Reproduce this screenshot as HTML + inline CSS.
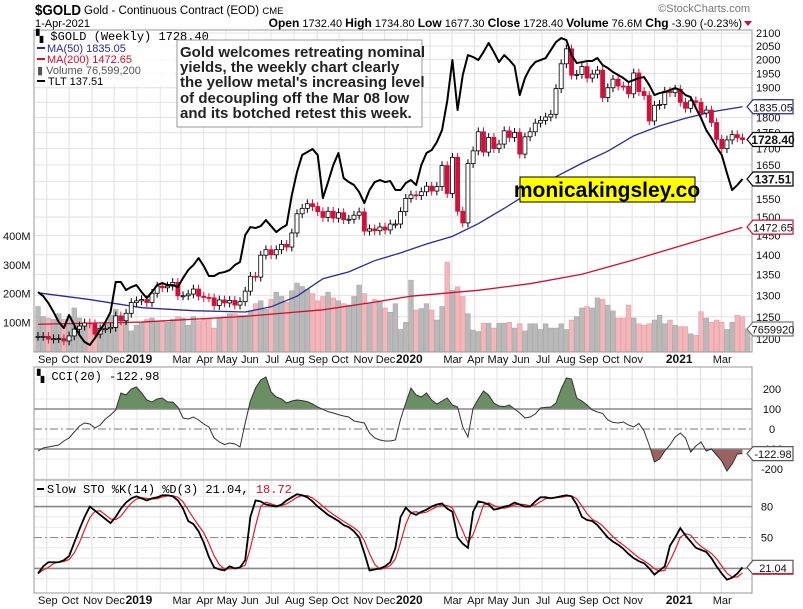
<!DOCTYPE html>
<html><head><meta charset="utf-8"><style>
html,body{margin:0;padding:0;background:#fff;}
svg{display:block;font-family:"Liberation Sans",Arial,sans-serif;}
</style></head><body>
<svg id="c" width="803" height="609" viewBox="0 0 803 609" xmlns="http://www.w3.org/2000/svg">
<defs>
<clipPath id="mainClip"><rect x="34" y="30" width="718" height="322"/></clipPath>
<clipPath id="cciAbove"><rect x="34" y="367" width="718" height="42"/></clipPath>
<clipPath id="cciBelow"><rect x="34" y="449" width="718" height="31"/></clipPath>
<clipPath id="cciClip"><rect x="34" y="367" width="718" height="113"/></clipPath>
<clipPath id="stoClip"><rect x="34" y="480" width="718" height="113"/></clipPath>
</defs>
<g id="grid"></g>
<g id="vol" clip-path="url(#mainClip)"></g>
<g id="ma" clip-path="url(#mainClip)"></g>
<g id="candles" clip-path="url(#mainClip)"></g>
<g id="tlt" clip-path="url(#mainClip)"></g>
<g id="cci"></g>
<g id="sto"></g>
<g id="frames">
<rect x="34" y="30" width="718" height="322" fill="none" stroke="#999"/>
<rect x="34" y="367" width="718" height="113" fill="none" stroke="#999"/>
<rect x="34" y="480" width="718" height="113" fill="none" stroke="#999"/>
</g>
<g id="axes" font-size="11" fill="#111"></g>
<g>
<text x="35" y="15" font-size="15" font-weight="bold" textLength="46" lengthAdjust="spacingAndGlyphs">$GOLD</text>
<text x="84" y="14" font-size="11.5">Gold - Continuous Contract (EOD) <tspan font-size="9.5">CME</tspan></text>
<text x="35" y="27" font-size="11">1-Apr-2021</text>
<text x="742" y="27" font-size="11" text-anchor="end"><tspan font-weight="bold" font-size="12">Open</tspan> 1732.40 <tspan font-weight="bold" font-size="12">High</tspan> 1734.80 <tspan font-weight="bold" font-size="12">Low</tspan> 1677.30 <tspan font-weight="bold" font-size="12">Close</tspan> 1728.40 <tspan font-weight="bold" font-size="12">Volume</tspan> 76.6M <tspan font-weight="bold" font-size="12">Chg</tspan> -3.90 (-0.23%)</text>
<path d="M744,21 L752,21 L748,26 Z" fill="#d01030"/>
<text x="750" y="12" font-size="11" fill="#777" text-anchor="end">©StockCharts.com</text>
</g>
<g>
<rect x="35" y="31" width="140" height="55" fill="#fff" opacity="0.85"/>
<text x="36" y="40" font-size="12" font-family="Liberation Mono,monospace">▚ $GOLD (Weekly) 1728.40</text>
<line x1="37" y1="48" x2="45" y2="48" stroke="#2a2a9a" stroke-width="2"/>
<text x="47" y="52" font-size="11" fill="#2a2a9a">MA(50) 1835.05</text>
<line x1="37" y1="59" x2="45" y2="59" stroke="#d01030" stroke-width="2"/>
<text x="47" y="63" font-size="11" fill="#d01030">MA(200) 1472.65</text>
<text x="37" y="74" font-size="11" fill="#555">▮ Volume 76,599,200</text>
<line x1="37" y1="81" x2="45" y2="81" stroke="#000" stroke-width="2"/>
<text x="48" y="85" font-size="11">TLT 137.51</text>
</g>
<g>
<rect x="177" y="40" width="245" height="87" fill="#fff" stroke="#999"/>
<text font-size="15" font-weight="bold" fill="#222">
<tspan x="180" y="57">Gold welcomes retreating nominal</tspan>
<tspan x="180" y="72">yields, the weekly chart clearly</tspan>
<tspan x="180" y="87">the yellow metal's increasing level</tspan>
<tspan x="180" y="103">of decoupling off the Mar 08 low</tspan>
<tspan x="180" y="118">and its botched retest this week.</tspan>
</text>
</g>
<g>
<rect x="520" y="177" width="175" height="25" fill="#ffff00" stroke="#000"/>
<text x="607" y="197" font-size="21" font-weight="bold" text-anchor="middle">monicakingsley.co</text>
</g>
<g><text x="37" y="380" font-size="12" font-family="Liberation Mono,monospace">▚ CCI(20) -122.98</text></g>
<g><line x1="37" y1="489" x2="44" y2="489" stroke="#000" stroke-width="2"/><text x="47" y="493" font-size="12" font-family="Liberation Mono,monospace">Slow STO %K(14) %D(3) 21.04, <tspan fill="#d01030">18.72</tspan></text></g>
<g id="tags"></g>
</svg>
<script>
// ---- data (weekly, starting 20-Aug-2018) ----
const goldClose = [1206,1206,1200,1201,1201,1196,1207,1222,1229,1236,1234,1211,1223,1223,1226,1252,1241,1258,1283,1287,
1290,1283,1305,1322,1318,1322,1331,1299,1299,1303,1315,1298,1295,1294,1276,1289,1282,1288,1277,1285,
1310,1346,1344,1399,1413,1400,1413,1427,1420,1457,1509,1524,1537,1529,1515,1499,1516,1497,1512,1493,
1494,1505,1514,1462,1468,1463,1473,1465,1481,1481,1515,1552,1562,1560,1571,1587,1573,1586,1648,1566,
1673,1516,1484,1654,1693,1753,1689,1735,1700,1714,1756,1735,1751,1683,1737,1753,1781,1790,1801,1810,
1897,1985,2040,1944,1947,1975,1934,1948,1962,1866,1900,1930,1906,1905,1879,1952,1887,1873,1788,1840,
1843,1888,1883,1895,1850,1830,1855,1850,1814,1824,1783,1729,1700,1727,1744,1734,1728];
const volumeM = [155,120,115,110,130,110,120,150,115,95,90,80,80,95,125,145,120,115,70,90,
100,110,115,105,105,100,110,120,115,90,120,105,110,110,80,115,120,130,130,125,
125,140,165,175,145,180,205,190,170,210,237,225,215,200,175,190,205,185,175,165,
160,190,230,200,165,180,175,150,135,165,75,100,
247,143,148,165,143,108,155,310,212,224,190,130,
73,68,97,97,80,97,97,100,80,
95,70,95,95,75,95,80,80,95,75,108,120,150,155,150,185,180,160,140,115,
115,160,115,95,90,95,108,125,95,108,90,85,85,60,55,137,115,100,108,100,75,100,125,120,77];
const ma50Weeks = [0,10,20,30,40,45,50,55,60,65,70,75,80,85,90,95,100,105,110,115,120,125,130,136];
const ma50Values = [1306,1290,1271,1264,1261,1273,1298,1340,1357,1385,1405,1428,1448,1482,1524,1570,1615,1655,1692,1740,1772,1797,1818,1835];
const ma200Weeks = [0,20,40,55,65,72,85,95,105,115,125,136];
const ma200Values = [1233,1238,1251,1266,1284,1298,1312,1328,1351,1387,1427,1472];
const tltClose = [114.9,114.1,112.7,110.9,108.9,107.7,110.3,108.3,106.3,104.9,104.3,105.7,107.3,108.9,110.9,116.9,116.9,115.3,115.9,116.3,
114.9,113.7,114.9,116.3,116.7,116.3,116.3,115.9,117.7,119.3,120.3,121.7,120.1,118.1,118.1,118.7,118.9,119.3,120.3,120.9,
126.3,127.9,127.7,128.1,129.3,128.1,126.9,127.7,128.3,134.3,138.9,142.3,142.9,143.5,142.3,133.7,136.9,140.3,142.7,137.7,
136.9,136.3,134.9,132.7,135.3,136.9,137.3,136.9,137.1,135.3,135.3,136.7,137.3,136.3,140.3,142.7,143.3,144.9,147.3,153.1,
161.3,151.3,158.3,162.3,161.9,161.3,162.9,164.7,162.9,160.9,162.3,161.3,160.1,154.3,157.7,159.7,160.9,161.3,161.7,163.3,
164.9,165.7,165.3,162.3,160.7,160.9,161.1,161.1,161.7,160.3,159.7,158.9,158.3,157.7,156.9,157.3,157.7,157.9,156.3,154.3,
154.7,154.9,155.3,155.7,155.3,154.3,153.9,151.7,149.7,147.3,145.7,143.9,142.3,138.7,135.3,136.3,137.51];
const cciValues = [-110,-95,-90,-85,-80,-60,-45,-15,15,30,25,5,20,50,70,95,180,170,200,210,
180,145,135,150,155,135,135,110,55,50,60,45,25,10,-45,-65,-78,-70,-75,-90,
30,140,205,245,260,185,160,150,130,140,145,142,137,125,110,98,87,80,72,65,
60,40,35,30,-20,-45,-55,-60,-60,-55,50,130,205,170,160,180,145,125,140,155,
120,110,10,-40,105,150,190,170,130,115,112,120,100,80,55,60,75,105,108,110,
130,200,255,250,155,140,120,95,85,78,45,33,30,35,20,10,28,-10,-80,-165,
-150,-110,-80,-40,-20,-45,-115,-85,-65,-110,-100,-130,-160,-210,-175,-125,-123];
const stoK = [15,22,26,26,26,28,32,45,58,70,80,76,72,68,64,70,78,84,88,90,
88,86,88,89,91,91,90,86,78,66,63,56,45,31,21,19,18,22,20,21,
28,70,86,85,82,81,80,82,86,89,92,91,89,85,80,76,72,69,66,62,
60,56,50,35,18,19,20,22,26,40,70,79,74,72,75,77,80,82,83,78,
75,50,44,40,75,85,84,82,77,78,80,81,84,82,80,80,85,89,89,88,
89,90,91,90,82,70,67,66,62,56,50,46,43,39,34,30,27,25,20,14,
18,22,42,50,59,52,46,40,38,36,30,22,15,9,11,15,21];
const priceTicks = [1200,1250,1300,1350,1400,1450,1500,1550,1600,1650,1700,1750,1800,1850,1900,1950,2000,2050,2100];
const volTicks = [100,200,300,400];
const volTickLabels = ["100M","200M","300M","400M"];
const cciTicks = [200,100,0,-100,-200];
const stoTicks = [80,50,20];
const monthLabels = ["Sep","Oct","Nov","Dec","2019","","Mar","Apr","May","Jun","Jul","Aug","Sep","Oct","Nov","Dec","2020","","Mar","Apr","May","Jun","Jul","Aug","Sep","Oct","Nov","","2021","","Mar"];
const monthStartWeeks = [1.7,6,10.4,14.7,19.1,23.6,27.6,32,36.3,40.7,45,49.4,53.9,58.1,62.6,66.9,71.3,75.7,79.9,84.3,88.6,93,97.3,101.7,106.1,110.4,114.7,119,123.4,127.9,131.9];

// ---- scales ----
const NS="http://www.w3.org/2000/svg";
const X = i => 38 + i*5.18;
const PY = p => 33 + 547*Math.log(2100/p);
const VY = v => 351 - v*0.287;
const TY = v => 179 - (v-137.51)*5;
const CY = v => 429 - v*0.2;
const SY = v => 589 - v*1.03;
function mk(tag, attrs, parent){const e=document.createElementNS(NS,tag);for(const k in attrs)e.setAttribute(k,attrs[k]);parent.appendChild(e);return e;}
const $=id=>document.getElementById(id);

// grid
const grid=$('grid');
monthStartWeeks.forEach((w,k)=>{
  const x=X(w);
  [[30,352],[367,480],[480,593]].forEach(r=>{
    const l=mk('line',{x1:x,x2:x,y1:r[0],y2:r[1],stroke:'#e2e2e2'},grid);
    
    
  });
});
priceTicks.forEach(p=>{const l=mk('line',{x1:34,x2:752,y1:PY(p),y2:PY(p),stroke:'#e2e2e2'},grid);

});
[250,150,50,-50,-150,-250].forEach(v=>{if(CY(v)>367&&CY(v)<480){const l=mk('line',{x1:34,x2:752,y1:CY(v),y2:CY(v),stroke:'#e8e8e8'},grid);

}});
[10,30,40,60,70,90].forEach(v=>{const l=mk('line',{x1:34,x2:752,y1:SY(v),y2:SY(v),stroke:'#e8e8e8'},grid);

});

// volume
const vol=$('vol');
volumeM.forEach((v,i)=>{
  const down = i>0 && goldClose[i]<goldClose[i-1];
  const r=mk('rect',{x:X(i)-2.4,y:VY(v),width:4.8,height:351-VY(v)+1,fill:down?'#f2b6bb':'#b9b9b9',stroke:down?'#e59aa0':'#a5a5a5','stroke-width':0.5},vol);
  
  
});

// moving averages
const ma=$('ma');
const p50=mk('polyline',{points:ma50Weeks.map((w,k)=>X(w)+','+PY(ma50Values[k])).join(' '),fill:'none',stroke:'#2a2a9a','stroke-width':1.3},ma);


const p200=mk('polyline',{points:ma200Weeks.map((w,k)=>X(w)+','+PY(ma200Values[k])).join(' '),fill:'none',stroke:'#d01030','stroke-width':1.3},ma);



// candles
const cg=$('candles');
goldClose.forEach((c,i)=>{
  const o = i>0?goldClose[i-1]:c;
  const up = c>=o;
  const hi=Math.max(o,c)*1.008, lo=Math.min(o,c)*0.992;
  const col = up?'#000':'#d4103a';
  const w=mk('line',{x1:X(i),x2:X(i),y1:PY(hi),y2:PY(lo),stroke:col,'stroke-width':1},cg);
  
  
  const top=PY(Math.max(o,c)), bot=PY(Math.min(o,c));
  const b=mk('rect',{x:X(i)-2,y:top,width:4,height:Math.max(1,bot-top),fill:up?'#fff':'#d4103a',stroke:col,'stroke-width':0.8},cg);
  
  
});

// TLT
const tl=mk('polyline',{points:tltClose.map((v,i)=>X(i)+','+TY(v)).join(' '),fill:'none',stroke:'#000','stroke-width':2,'stroke-linejoin':'round'},$('tlt'));



// CCI
const cg2=$('cci');
const cpts=cciValues.map((v,i)=>X(i)+','+CY(v));
const lastX=X(cciValues.length-1);
const fa=mk('polygon',{points:X(0)+','+CY(100)+' '+cpts.join(' ')+' '+lastX+','+CY(100),fill:'#6a8f62',stroke:'none','clip-path':'url(#cciAbove)'},cg2);


const fb=mk('polygon',{points:X(0)+','+CY(-100)+' '+cpts.join(' ')+' '+lastX+','+CY(-100),fill:'#9c6262',stroke:'none','clip-path':'url(#cciBelow)'},cg2);


[[100,'#888',''],[-100,'#888',''],[0,'#777','8,3,2,3']].forEach(t=>{const l=mk('line',{x1:34,x2:752,y1:CY(t[0]),y2:CY(t[0]),stroke:t[1],'stroke-width':t[2]?1:1.6,'stroke-dasharray':t[2]},cg2);

});
const cl=mk('polyline',{points:cpts.join(' '),fill:'none',stroke:'#333','stroke-width':1,'clip-path':'url(#cciClip)'},cg2);



// STO
const sg=$('sto');
[[80,''],[20,''],[50,'8,3,2,3']].forEach(t=>{const l=mk('line',{x1:34,x2:752,y1:SY(t[0]),y2:SY(t[0]),stroke:'#888','stroke-width':t[1]?1:1.6,'stroke-dasharray':t[1]},sg);

});
const stoD = stoK.map((v,i)=>{const a=stoK.slice(Math.max(0,i-2),i+1);return a.reduce((s,x)=>s+x,0)/a.length;});
const dl=mk('polyline',{points:stoD.map((v,i)=>X(i)+','+SY(v)).join(' '),fill:'none',stroke:'#e0202a','stroke-width':1.2,'clip-path':'url(#stoClip)'},sg);


const kl=mk('polyline',{points:stoK.map((v,i)=>X(i)+','+SY(v)).join(' '),fill:'none',stroke:'#000','stroke-width':1.8,'clip-path':'url(#stoClip)'},sg);



// axes
const ax=$('axes');
priceTicks.forEach(p=>{const t=mk('text',{x:756,y:PY(p)+4},ax);t.textContent=p;

});
volTicks.forEach((v,k)=>{const t=mk('text',{x:3,y:VY(v)+4},ax);t.textContent=volTickLabels[k];

});
cciTicks.forEach(v=>{const t=mk('text',{x:772,y:CY(v)+4,'text-anchor':'middle'},ax);t.textContent=v;

});
stoTicks.forEach(v=>{const t=mk('text',{x:767,y:SY(v)+4,'text-anchor':'middle'},ax);t.textContent=v;

});
monthLabels.forEach((m,k)=>{ if(!m) return;
  const yr=/^20/.test(m);
  [363,604].forEach(y=>{const t=mk('text',{x:X(monthStartWeeks[k])+(yr?2:1),y:y,'text-anchor':'middle','font-weight':yr?'bold':'normal','font-size':yr?12:11},ax);t.textContent=m;
  
  });
});

// value tags
const tg=$('tags');
function tag(y,txt,col,bold,fill){
  const g=mk('g',{},tg);
  
  
  mk('path',{d:`M747,${y} L753,${y-7} L793,${y-7} L793,${y+7} L753,${y+7} Z`,fill:fill||'#fff',stroke:col,'stroke-width':1.2},g);
  const t=mk('text',{x:773,y:y+4.5,'text-anchor':'middle','font-size':bold?12:11,'font-weight':bold?'bold':'normal',fill:'#111'},g);
  t.textContent=txt;
}
tag(PY(1835.05),'1835.05','#2a2a9a',false);
tag(PY(1728.40),'1728.40','#000',true);
tag(TY(137.51),'137.51','#000',true);
tag(PY(1472.65),'1472.65','#d01030',false);
tag(VY(76.6),'7659920','#777',false);
tag(CY(-122.98),'-122.98','#555',false);
tag(SY(21.04),'21.04','#555',false);
mk('line',{x1:753,x2:793,y1:SY(18.72)+4,y2:SY(18.72)+4,stroke:'#e0202a','stroke-width':1.5},tg);
</script>
</body></html>
